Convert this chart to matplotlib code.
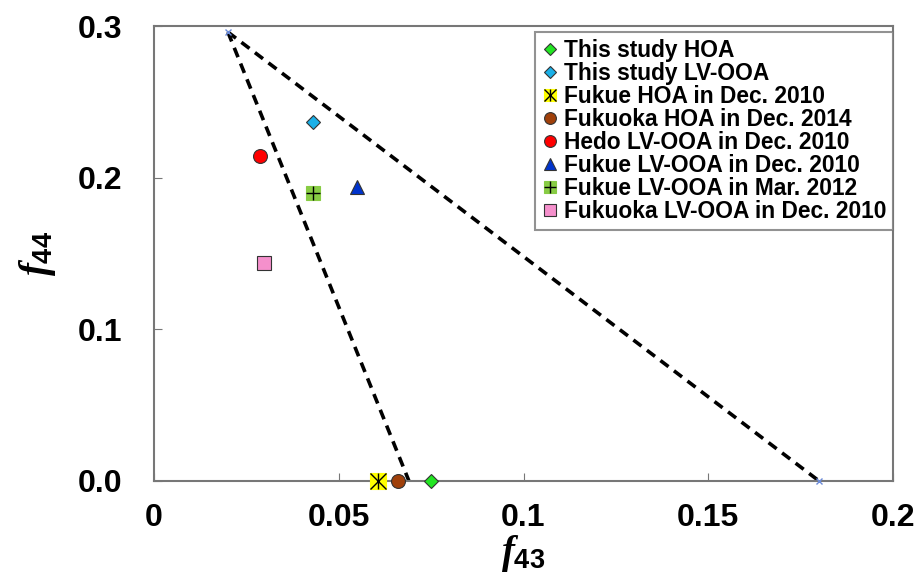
import matplotlib
matplotlib.use('Agg')
import matplotlib.pyplot as plt
from matplotlib.lines import Line2D

plt.rcParams['font.family'] = ['Liberation Sans', 'DejaVu Sans']
plt.rcParams['font.weight'] = 'bold'
plt.rcParams['mathtext.fontset'] = 'custom'
plt.rcParams['mathtext.it'] = 'Liberation Serif:italic:bold'
plt.rcParams['mathtext.bf'] = 'Liberation Sans:bold'
plt.rcParams['mathtext.rm'] = 'Liberation Sans:bold'

# f43, f44 of each factor
labels = ['This study HOA', 'This study LV-OOA', 'Fukue HOA in Dec. 2010',
          'Fukuoka HOA in Dec. 2014', 'Hedo LV-OOA in Dec. 2010',
          'Fukue LV-OOA in Dec. 2010', 'Fukue LV-OOA in Mar. 2012',
          'Fukuoka LV-OOA in Dec. 2010']
f43 = [0.075, 0.043, 0.0605, 0.066, 0.0287, 0.0549, 0.043, 0.0298]
f44 = [0.0, 0.237, 0.0, 0.0, 0.214, 0.194, 0.190, 0.144]

# triangle (Ng et al. 2010)
tri_left_x = [0.020, 0.069]
tri_left_y = [0.296, 0.0]
tri_right_x = [0.020, 0.180]
tri_right_y = [0.296, 0.0]

styles = [
    dict(marker='D', color='#22e622', ms=7, mec='#333333'),
    dict(marker='D', color='#1ab0e8', ms=7, mec='#333333'),
    dict(marker='s', color='#ffff00', ms=11, mec='#ffff00'),
    dict(marker='o', color='#a0400a', ms=10, mec='#333333'),
    dict(marker='o', color='#ff0000', ms=10, mec='#333333'),
    dict(marker='^', color='#0033cc', ms=10, mec='#333333'),
    dict(marker='s', color='#88cc44', ms=10, mec='#88cc44'),
    dict(marker='s', color='#f590cc', ms=10, mec='#333333'),
]
# extra black strokes drawn on top of some markers
overlay = {2: ['x', '|'], 6: ['+']}

fig = plt.figure(figsize=(9.18, 5.78), dpi=100)
ax = fig.add_axes([154/918, 1 - 481/578, (893-154)/918, (481-26)/578])

ax.plot(tri_left_x, tri_left_y, 'k--', lw=2.6, dashes=(2.8, 1.9), zorder=2)
ax.plot(tri_right_x, tri_right_y, 'k--', lw=2.6, dashes=(2.8, 1.9), zorder=2)
ax.plot([tri_left_x[0], tri_right_x[1]], [tri_left_y[0], tri_right_y[1]],
        ls='none', marker='x', color='#6a8ad8', ms=5, mew=1, zorder=3,
        clip_on=False)

handles = []
for i in range(len(labels)):
    st = styles[i]
    ax.plot(f43[i], f44[i], ls='none', marker=st['marker'], ms=st['ms'],
            mfc=st['color'], mec=st['mec'], mew=0.8,
            zorder=5, clip_on=False)
    hs = [Line2D([], [], ls='none', marker=st['marker'], ms=st['ms'] * 0.85,
                 mfc=st['color'], mec=st['mec'], mew=0.8)]
    for m in overlay.get(i, []):
        ax.plot(f43[i], f44[i], ls='none', marker=m, ms=st['ms'],
                color='black', mew=1.0, zorder=6, clip_on=False)
        hs.append(Line2D([], [], ls='none', marker=m, ms=st['ms'] * 0.85,
                         color='black', mew=1.0))
    handles.append(tuple(hs))

ax.set_xlim(0, 0.2)
ax.set_ylim(0, 0.3)
ax.set_xticks([0, 0.05, 0.1, 0.15, 0.2])
ax.set_xticklabels(['0', '0.05', '0.1', '0.15', '0.2'])
ax.set_yticks([0, 0.1, 0.2, 0.3])
ax.set_yticklabels(['0.0', '0.1', '0.2', '0.3'])
ax.tick_params(direction='in', length=6, color='#777777', labelsize=23)
ax.tick_params(axis='x', pad=16)
ax.tick_params(axis='y', pad=23)
for sp in ax.spines.values():
    sp.set_color('#777777')
    sp.set_linewidth(1.5)

ax.set_xlabel(r'$\mathit{f}_{\mathbf{43}}$', fontsize=28, labelpad=0)
ax.set_ylabel(r'$\mathit{f}_{\mathbf{44}}$', fontsize=28, labelpad=14)

leg = ax.legend(handles, labels, loc='upper right',
                bbox_to_anchor=(1.0, 0.987), fontsize=16.4,
                frameon=True, fancybox=False, handlelength=0.7,
                handletextpad=0.25, labelspacing=0.0, borderpad=0.3,
                borderaxespad=0)
leg.get_frame().set_edgecolor('#777777')
leg.get_frame().set_linewidth(1.5)

fig.savefig('out.png', dpi=100)
